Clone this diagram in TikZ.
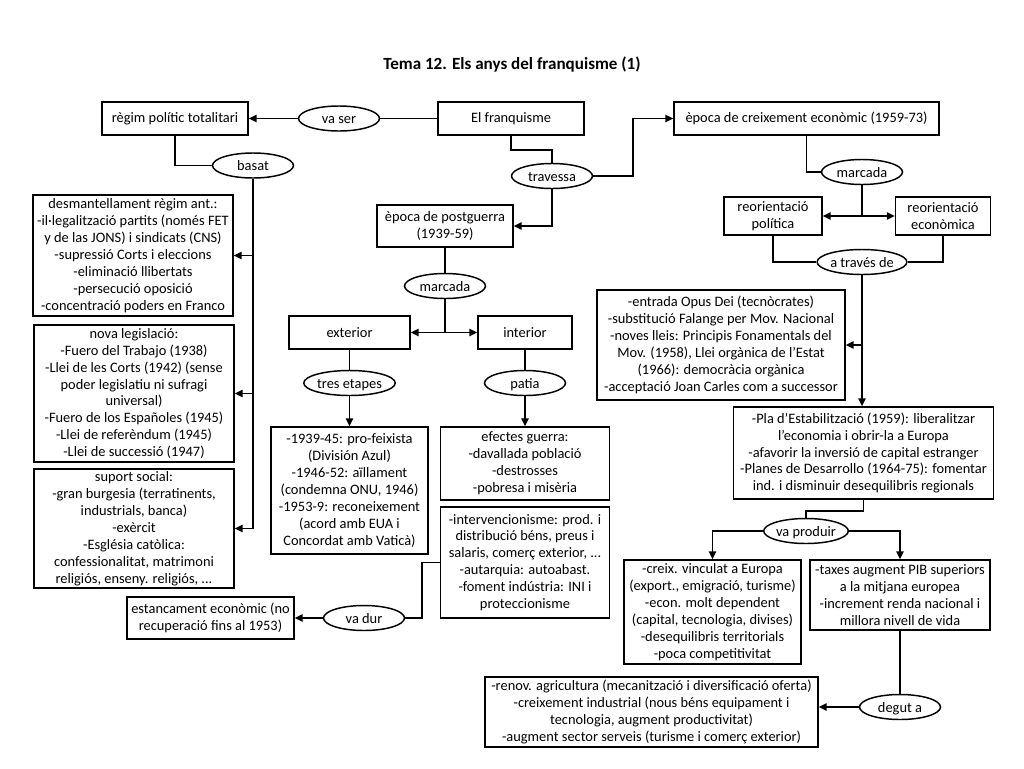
\documentclass[tikz,border=0pt]{standalone}
\usepackage{fontspec}
\setmainfont{Carlito}
\usepackage{tikz}
\usetikzlibrary{arrows.meta, positioning, shapes.geometric, calc}

\begin{document}
\begin{tikzpicture}[
        x=0.75pt, y=-0.75pt,
        line width=1.3pt,
        font=\fontsize{10.8}{12.7}\selectfont,
        sz/.style 2 args={minimum width=#1*0.75pt, minimum height=#2*0.75pt},
        box/.style={rectangle, draw, line width=1.1pt, align=center, inner xsep=1pt, inner ysep=1pt},
        verb/.style={ellipse, draw, line width=1.1pt, inner sep=0pt, text height=9pt, text depth=1pt, sz={81}{25}},
        arrow/.style={-{Triangle[length=6pt, width=5.5pt]}},
        title/.style={font=\fontsize{12.8}{15}\selectfont\bfseries}
    ]
        \useasboundingbox (0,0) rectangle (1024,768);
        \node[title] (tema) at (512,65) {Tema 12. Els anys del franquisme (1)};

        % fila superior
        \node[box, sz={146}{33}] (regim) at (175,118.5) {règim polític totalitari};
        \node[verb] (vaser) at (339,118.5) {va ser};
        \node[box, sz={146}{33}] (franq) at (511,118.5) {El franquisme};
        \node[box, sz={265}{33}] (creix) at (806.5,118.5) {època de creixement econòmic (1959-73)};
        \node[verb] (travessa) at (552,176) {travessa};

        % columna esquerra
        \node[verb] (basat) at (253,165.5) {basat};
        \node[box, sz={200}{121}] (desm) at (133,255.5) {desmantellament règim ant.:\\-il·legalització partits (només FET\\y de las JONS) i sindicats (CNS)\\-supressió Corts i eleccions\\-eliminació llibertats\\-persecució oposició\\-concentració poders en Franco};
        \node[box, sz={200}{137}] (legis) at (134,393.5) {nova legislació:\\-Fuero del Trabajo (1938)\\-Llei de les Corts (1942) (sense\\poder legislatiu ni sufragi\\universal)\\-Fuero de los Españoles (1945)\\-Llei de referèndum (1945)\\-Llei de successió (1947)};
        \node[box, sz={200}{119}] (suport) at (134,528.5) {suport social:\\-gran burgesia (terratinents,\\industrials, banca)\\-exèrcit\\-Església catòlica:\\confessionalitat, matrimoni\\religiós, enseny. religiós, ...};

        % postguerra
        \node[box, sz={136}{42}] (postg) at (445,226) {època de postguerra\\(1939-59)};
        \node[verb] (marc1) at (445,286) {marcada};
        \node[box, sz={121}{33}] (ext) at (349.5,332.5) {exterior};
        \node[box, sz={94}{33}] (int) at (525,332.5) {interior};
        \node[verb] (tres) at (349.5,383) {tres etapes};
        \node[verb] (patia) at (525,383) {patia};
        \node[box, sz={157}{127}] (etapes) at (349.5,490.5) {-1939-45: pro-feixista\\(División Azul)\\-1946-52: aïllament\\(condemna ONU, 1946)\\-1953-9: reconeixement\\(acord amb EUA i\\Concordat amb Vaticà)};
        \node[box, sz={169}{73}] (guerra) at (525,463.5) {efectes guerra:\\-davallada població\\-destrosses\\-pobresa i misèria};
        \node[box, sz={169}{111}] (interv) at (525,562.5) {-intervencionisme: prod. i\\distribució béns, preus i\\salaris, comerç exterior, ...\\-autarquia: autoabast.\\-foment indústria: INI i\\proteccionisme};
        \node[verb] (vadur) at (364,618) {va dur};
        \node[box, sz={167}{42}] (estanc) at (210.5,618) {estancament econòmic (no\\recuperació fins al 1953)};

        % creixement
        \node[verb] (marc2) at (862,172) {marcada};
        \node[box, sz={98}{38}] (reorpol) at (773,216) {reorientació\\política};
        \node[box, sz={95}{38}] (reorec) at (943,216) {reorientació\\econòmica};
        \node[verb] (atraves) at (862,262) {a través de};
        \node[box, sz={248}{110}] (opus) at (721,345) {-entrada Opus Dei (tecnòcrates)\\-substitució Falange per Mov. Nacional\\-noves lleis: Principis Fonamentals del\\Mov. (1958), Llei orgànica de l’Estat\\(1966): democràcia orgànica\\-acceptació Joan Carles com a successor};
        \node[box, sz={260}{92}] (pla) at (863.5,453) {-Pla d’Estabilització (1959): liberalitzar\\l’economia i obrir-la a Europa\\-afavorir la inversió de capital estranger\\-Planes de Desarrollo (1964-75): fomentar\\ind. i disminuir desequilibris regionals};
        \node[verb] (vaprod) at (806,531) {va produir};
        \node[box, sz={177}{104}] (creixv) at (712.5,612) {-creix. vinculat a Europa\\(export., emigració, turisme)\\-econ. molt dependent\\(capital, tecnologia, divises)\\-desequilibris territorials\\-poca competitivitat};
        \node[box, sz={180}{70}] (taxes) at (900,595) {-taxes augment PIB superiors\\a la mitjana europea\\-increment renda nacional i\\millora nivell de vida};
        \node[verb] (degut) at (900,707) {degut a};
        \node[box, sz={333}{70}] (renov) at (651.5,712) {-renov. agricultura (mecanització i diversificació oferta)\\-creixement industrial (nous béns equipament i\\tecnologia, augment productivitat)\\-augment sector serveis (turisme i comerç exterior)};

        % connectors
        \draw (franq) -- (vaser);
        \draw[arrow] (vaser) -- (regim);
        \draw (regim.south) |- (basat.west);
        \draw[arrow] (basat.south) |- (suport.east);
        \draw[arrow] (basat.south |- desm.east) -- (desm.east);
        \draw[arrow] (basat.south |- legis.east) -- (legis.east);

        \draw (franq.south) -- ++(0,14) -| (travessa.north);
        \draw[arrow] (travessa.east) -- ++(40,0) |- (creix.west);
        \draw[arrow] (travessa.south) |- (postg.east);
        \draw (postg) -- (marc1);
        \draw (marc1.south) -- (marc1.south |- ext.east);
        \draw[arrow] (marc1.south |- ext.east) -- (ext.east);
        \draw[arrow] (marc1.south |- int.west) -- (int.west);
        \draw (ext) -- (tres);
        \draw[arrow] (tres) -- (etapes);
        \draw (int) -- (patia);
        \draw[arrow] (patia) -- (guerra);
        \draw (interv.west) -- ++(-18,0) |- (vadur.east);
        \draw[arrow] (vadur) -- (estanc);

        \draw (creix.south) |- (marc2.west);
        \draw (marc2.south) -- (marc2.south |- reorpol.east);
        \draw[arrow] (marc2.south |- reorpol.east) -- (reorpol.east);
        \draw[arrow] (marc2.south |- reorec.west) -- (reorec.west);
        \draw (reorpol.south) |- (atraves.west);
        \draw (reorec.south) |- (atraves.east);
        \draw[arrow] (atraves.south) -- (atraves.south |- pla.north);
        \draw[arrow] (atraves.south |- opus.east) -- (opus.east);
        \draw (pla.south) -- ++(0,11) -| (vaprod.north);
        \draw[arrow] (vaprod.west) -| (creixv.north);
        \draw[arrow] (vaprod.east) -| (taxes.north);
        \draw (taxes) -- (degut);
        \draw[arrow] (degut.west) -- (degut.west -| renov.east);
    \end{tikzpicture}
\end{document}
